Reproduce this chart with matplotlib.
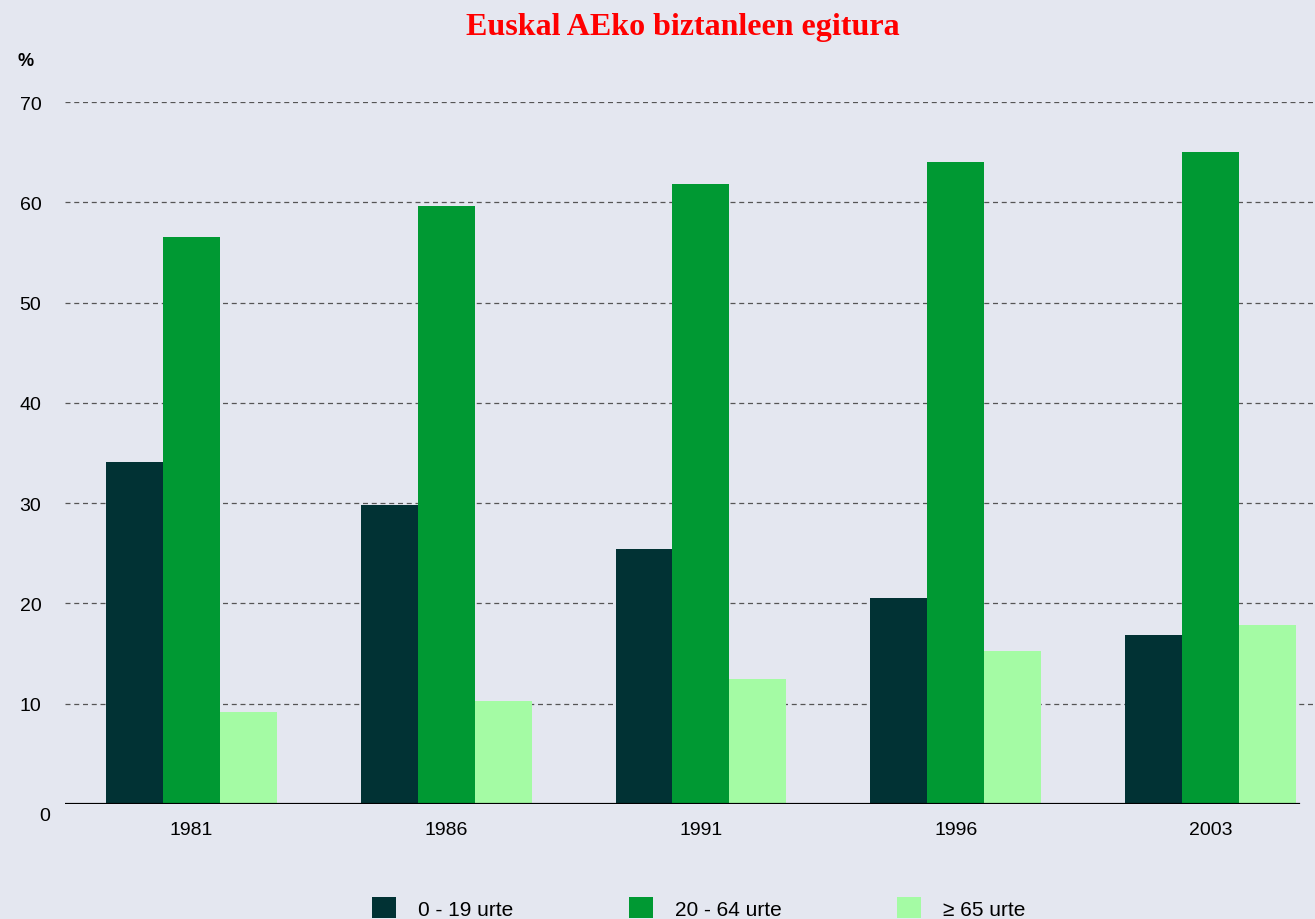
import matplotlib
matplotlib.use("Agg")
import matplotlib.pyplot as plt
from matplotlib.patches import Patch
import numpy as np

years = ["1981", "1986", "1991", "1996", "2003"]
series_names = ["0 - 19 urte", "20 - 64 urte", "\u2265 65 urte"]
age_0_19 = [34.1, 29.8, 25.4, 20.5, 16.9]
age_20_64 = [56.5, 59.6, 61.8, 64.0, 65.0]
age_65 = [9.2, 10.3, 12.5, 15.3, 17.8]
colors = ["#013234", "#009933", "#a4fba4"]
yticks = [0, 10, 20, 30, 40, 50, 60, 70]

bg = "#e4e7f0"
plt.rcParams['font.family'] = ['Liberation Sans', 'DejaVu Sans']

W, H = 1315, 920
fig = plt.figure(figsize=(W / 100, H / 100), dpi=100, facecolor=bg)
ax = fig.add_axes([65 / W, (H - 805) / H, 1250 / W, 702 / H])
ax.set_facecolor(bg)

x = np.arange(len(years))
bw = 0.2235
for i, (vals, c) in enumerate(zip([age_0_19, age_20_64, age_65], colors)):
    ax.bar(x + (i - 1) * bw, vals, width=bw, color=c, zorder=3, linewidth=0)

ax.set_xlim(-0.496, 4.41)
ax.set_ylim(0, 70)
ax.set_yticks(yticks[1:])
ax.set_yticklabels([str(v) for v in yticks[1:]], fontsize=14)
ax.set_xticks(x)
ax.set_xticklabels(years, fontsize=14)
ax.tick_params(axis='both', length=0)
ax.tick_params(axis='y', pad=17)
ax.tick_params(axis='x', pad=12)
for s in ax.spines.values():
    s.set_visible(False)
ax.yaxis.grid(True, linestyle=(0, (4, 3)), color="#555555", linewidth=0.9, zorder=0)
ax.axhline(0, xmin=0, xmax=(1298 - 65) / 1250, color="black", linewidth=2.3, zorder=4)
ax.set_axisbelow(True)

# zero label sits slightly below the axis line
ax.text(-(65 - 50) / 1250, -0.3, str(yticks[0]), transform=ax.get_yaxis_transform(),
        fontsize=14, ha='right', va='top', clip_on=False)

fig.text(17 / W, (H - 61) / H, "%", fontsize=13, fontweight='bold', ha='left', va='center')
fig.text(683 / W, (H - 27) / H, "Euskal AEko biztanleen egitura", color="#ff0000",
         fontsize=23, fontweight='bold', family=['Liberation Serif', 'DejaVu Serif'],
         ha='center', va='center')

handles = [Patch(facecolor=c, edgecolor='none') for c in colors]
fig.legend(handles, series_names, loc='center left', bbox_to_anchor=(372 / W, 11 / H),
           ncol=3, frameon=False, fontsize=15, handlelength=1.15, handleheight=1.15,
           handletextpad=1.06, columnspacing=5.55, borderpad=0, borderaxespad=0)

fig.savefig("out.png", dpi=100, facecolor=bg)
